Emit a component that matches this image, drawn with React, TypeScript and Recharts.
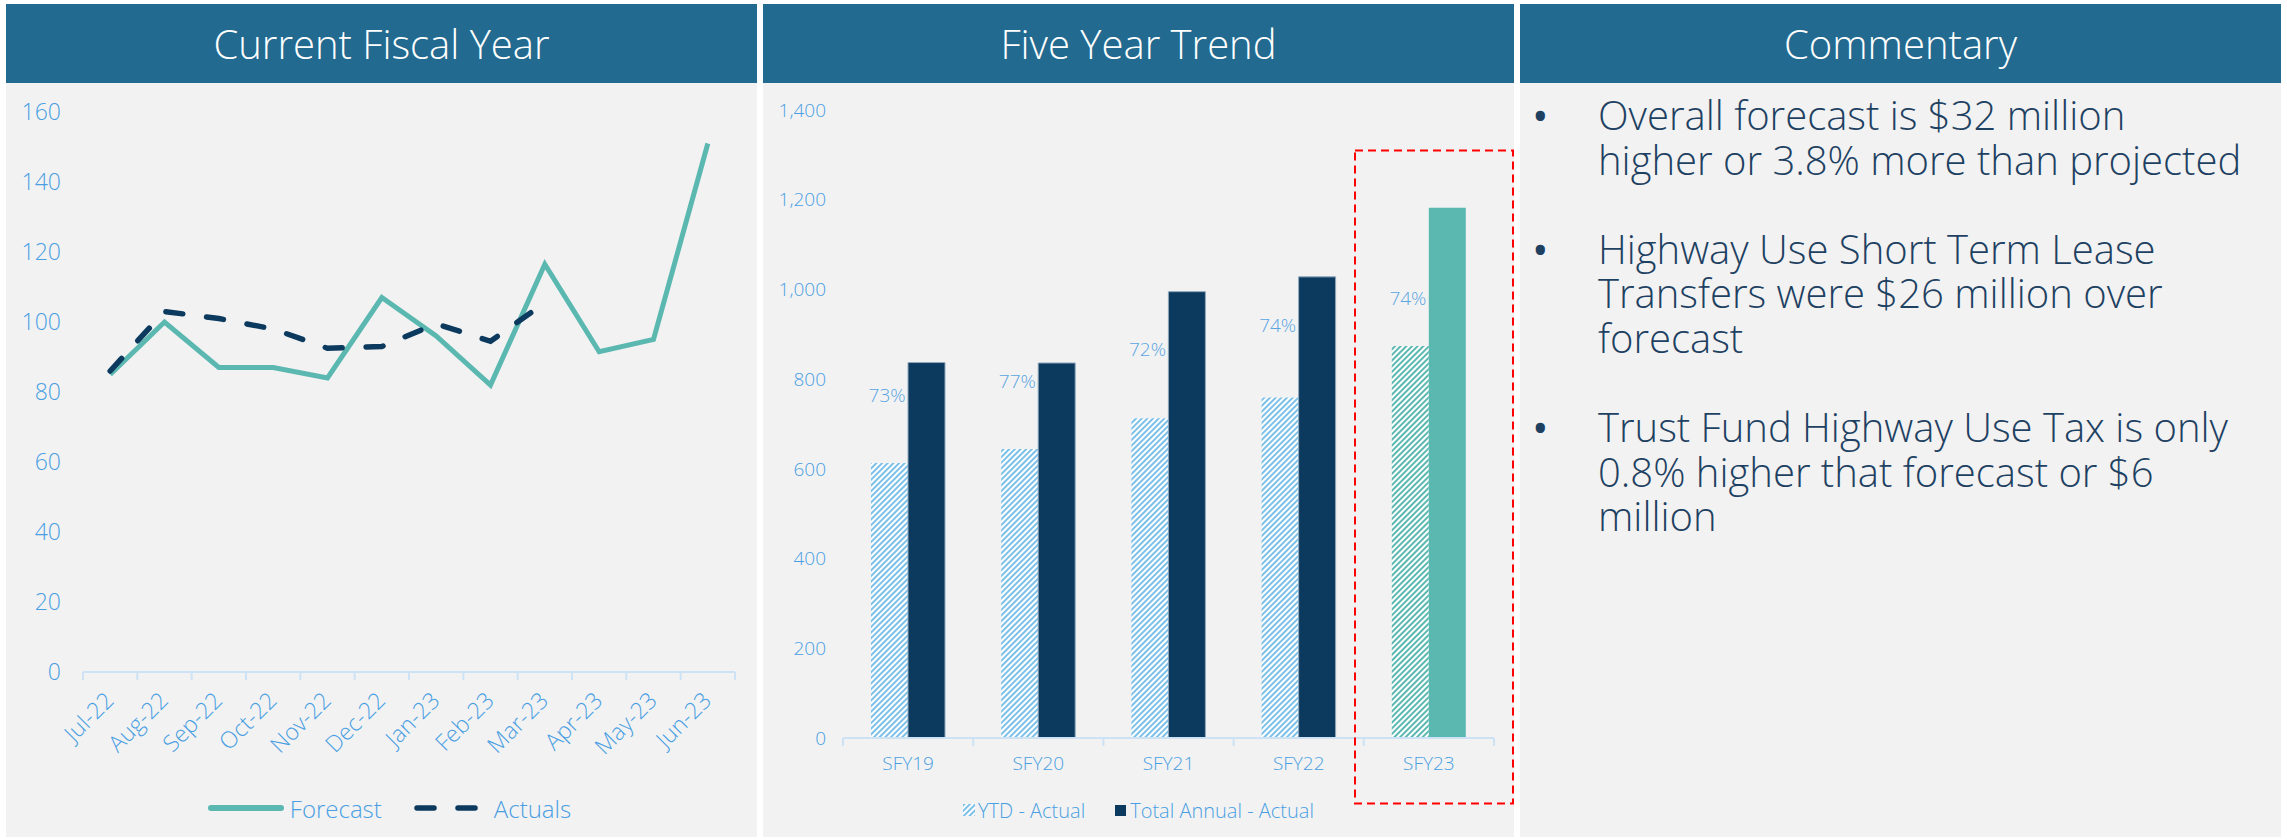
import React from 'react';
import { LineChart, Line, XAxis, YAxis, Legend, ComposedChart, Bar, Cell, LabelList } from 'recharts';

// ---------- Data ----------
const months = ['Jul-22', 'Aug-22', 'Sep-22', 'Oct-22', 'Nov-22', 'Dec-22', 'Jan-23', 'Feb-23', 'Mar-23', 'Apr-23', 'May-23', 'Jun-23'];
const forecast = [85, 100, 87, 87, 84, 107, 96, 82, 116.5, 91.5, 95, 151];
const actuals: (number | null)[] = [86, 103, 101, 98, 92.5, 93, 99.5, 94.5, 105.5, null, null, null];
const lineYTicks = [0, 20, 40, 60, 80, 100, 120, 140, 160];
const lineSeriesNames = ['Forecast', 'Actuals'];

const years = ['SFY19', 'SFY20', 'SFY21', 'SFY22', 'SFY23'];
const ytdActual = [613, 644, 713, 759, 874];
const totalAnnual = [837, 836, 995, 1028, 1182];
const ytdPct = [73, 77, 72, 74, 74];
const pctLabelAt = [763, 795, 867, 921, 980];
const barYTicks = [0, 200, 400, 600, 800, 1000, 1200, 1400];
const barSeriesNames = ['YTD - Actual', 'Total Annual - Actual'];
const highlightYear = 'SFY23';

const panelTitles = ['Current Fiscal Year', 'Five Year Trend', 'Commentary'];
const commentary: string[][] = [
  ['Overall forecast is $32 million', 'higher or 3.8% more than projected'],
  ['Highway Use Short Term Lease', 'Transfers were $26 million over', 'forecast'],
  ['Trust Fund Highway Use Tax is only', '0.8% higher that forecast or $6', 'million'],
];

// ---------- Style ----------
const FONT = '"Open Sans", "Noto Sans", sans-serif';
const HEADER = '#226a8f';
const PANEL_BG = '#f2f2f2';
const AXIS_TEXT = '#4a9fe3';
const AXIS_LINE = '#cde2f4';
const TEAL = '#5bb8b1';
const NAVY = '#0c3a5e';
const HATCH_BLUE = '#7cc0e8';
const TEXT_DARK = '#1e4162';

const lineRows = months.map((m, i) => ({ x: i + 0.5, month: m, forecast: forecast[i], actual: actuals[i] }));
const lineXTicks: number[] = [];
for (let i = 0; i <= months.length * 2; i++) lineXTicks.push(i / 2);

const barRows = years.map((y, i) => ({ year: y, ytd: ytdActual[i], total: totalAnnual[i], pct: ytdPct[i], labelAt: pctLabelAt[i] }));

const C1 = { width: 751, height: 754, yAxisW: 77, right: 22, top: 29 };
const C2 = { width: 751, height: 754, yAxisW: 80, right: 20, top: 27 };

const LineXTick = (props: any) => {
  const { x, y, payload } = props;
  const v = payload.value as number;
  if (Number.isInteger(v)) {
    return <line x1={x} x2={x} y1={y} y2={y + 8} stroke={AXIS_LINE} strokeWidth={2} />;
  }
  const label = months[Math.floor(v)];
  return (
    <g transform={`translate(${x + 5},${y + 30}) rotate(-45)`}>
      <text x={0} y={0} textAnchor="end" fill={AXIS_TEXT} fontSize={23} fontFamily={FONT} fontWeight={300}>
        {label}
      </text>
    </g>
  );
};

const BarXTick = (props: any) => {
  const { x, y, payload, index } = props;
  const band = (C2.width - C2.yAxisW - C2.right) / years.length;
  return (
    <g>
      <line x1={x - band / 2} x2={x - band / 2} y1={y} y2={y + 8} stroke={AXIS_LINE} strokeWidth={2} />
      {index === years.length - 1 && (
        <line x1={x + band / 2} x2={x + band / 2} y1={y} y2={y + 8} stroke={AXIS_LINE} strokeWidth={2} />
      )}
      <text x={x} y={y + 25} dy="0.35em" textAnchor="middle" fill={AXIS_TEXT} fontSize={19} fontFamily={FONT} fontWeight={300}>
        {payload.value}
      </text>
    </g>
  );
};

const LineLegend = () => (
  <div style={{ display: 'flex', justifyContent: 'center', alignItems: 'center', height: 30, paddingLeft: 16, fontFamily: FONT, fontWeight: 300, fontSize: 24, color: AXIS_TEXT }}>
    <svg width={76} height={12} style={{ marginRight: 6 }}>
      <line x1={3} x2={73} y1={6} y2={6} stroke={TEAL} strokeWidth={6} strokeLinecap="round" />
    </svg>
    <span>{lineSeriesNames[0]}</span>
    <svg width={66} height={12} style={{ marginLeft: 32, marginRight: 14 }}>
      <line x1={3} x2={64} y1={6} y2={6} stroke={NAVY} strokeWidth={5.5} strokeLinecap="round" strokeDasharray="17 24" />
    </svg>
    <span>{lineSeriesNames[1]}</span>
  </div>
);

const BarLegend = () => (
  <div style={{ display: 'flex', justifyContent: 'center', alignItems: 'center', height: 26, fontFamily: FONT, fontWeight: 300, fontSize: 20, color: AXIS_TEXT }}>
    <svg width={12} height={12} style={{ marginRight: 3 }}>
      <rect x={0} y={0} width={12} height={12} fill="url(#legendHatch)" />
      <defs>
        <pattern id="legendHatch" width={4} height={4} patternUnits="userSpaceOnUse" patternTransform="rotate(45)">
          <rect width={4} height={4} fill="#ffffff" />
          <rect width={2} height={4} fill={HATCH_BLUE} />
        </pattern>
      </defs>
    </svg>
    <span>{barSeriesNames[0]}</span>
    <svg width={11} height={11} style={{ marginLeft: 30, marginRight: 4 }}>
      <rect x={0} y={0} width={11} height={11} fill={NAVY} />
    </svg>
    <span>{barSeriesNames[1]}</span>
  </div>
);

const PctLabel = (props: any) => {
  const { x, y, value } = props;
  return (
    <text x={x - 21} y={y} dy="0.35em" textAnchor="middle" fill="#5aa5e2" fontSize={19} fontFamily={FONT} fontWeight={300}>
      {`${value}%`}
    </text>
  );
};

const Header = ({ title }: { title: string }) => (
  <div style={{ position: 'absolute', left: 0, top: 0, right: 0, height: 79, background: HEADER, color: '#fff', display: 'flex', alignItems: 'center', justifyContent: 'center', fontFamily: FONT, fontWeight: 300, fontSize: 40 }}>
    {title}
  </div>
);

export default function App() {
  return (
    <div style={{ position: 'absolute', left: 0, top: 0, width: 2287, height: 840, background: '#ffffff', overflow: 'hidden' }}>
      {/* Panel 1 */}
      <div style={{ position: 'absolute', left: 6, top: 4, width: 751, height: 833, background: PANEL_BG }}>
        <Header title={panelTitles[0]} />
        <div style={{ position: 'absolute', left: 0, top: 79 }}>
          <LineChart width={C1.width} height={C1.height} data={lineRows} margin={{ top: C1.top, right: C1.right, left: 0, bottom: 35 }}>
            <XAxis
              type="number"
              dataKey="x"
              domain={[0, months.length]}
              ticks={lineXTicks}
              interval={0}
              tickLine={false}
              tickSize={0}
              tickMargin={0}
              axisLine={{ stroke: AXIS_LINE, strokeWidth: 2 }}
              tick={<LineXTick />}
              height={100}
            />
            <YAxis
              domain={[0, 160]}
              ticks={lineYTicks}
              interval={0}
              width={C1.yAxisW}
              axisLine={false}
              tickLine={false}
              tickSize={0}
              tickMargin={22}
              tick={{ fill: AXIS_TEXT, fontSize: 23, fontFamily: FONT, fontWeight: 300 }}
            />
            <Legend content={<LineLegend />} wrapperStyle={{ top: 710, left: 0, width: C1.width, height: 30 }} />
            <Line dataKey="forecast" name={lineSeriesNames[0]} stroke={TEAL} strokeWidth={5} dot={false} activeDot={false} isAnimationActive={false} strokeLinejoin="miter" />
            <Line dataKey="actual" name={lineSeriesNames[1]} stroke={NAVY} strokeWidth={5.5} strokeDasharray="17 24" strokeLinecap="round" dot={false} activeDot={false} isAnimationActive={false} connectNulls={false} />
          </LineChart>
        </div>
      </div>

      {/* Panel 2 */}
      <div style={{ position: 'absolute', left: 763, top: 4, width: 751, height: 833, background: PANEL_BG }}>
        <Header title={panelTitles[1]} />
        <div style={{ position: 'absolute', left: 0, top: 79 }}>
          <ComposedChart width={C2.width} height={C2.height} data={barRows} margin={{ top: C2.top, right: C2.right, left: 0, bottom: 23 }} barGap={0}>
            <defs>
              <pattern id="hatchBlue" width={4} height={4} patternUnits="userSpaceOnUse" patternTransform="rotate(45)">
                <rect width={4} height={4} fill="#ffffff" />
                <rect width={2} height={4} fill={HATCH_BLUE} />
              </pattern>
              <pattern id="hatchTeal" width={4} height={4} patternUnits="userSpaceOnUse" patternTransform="rotate(45)">
                <rect width={4} height={4} fill="#ffffff" />
                <rect width={2} height={4} fill={TEAL} />
              </pattern>
            </defs>
            <XAxis
              dataKey="year"
              tickLine={false}
              tickSize={0}
              tickMargin={0}
              axisLine={{ stroke: AXIS_LINE, strokeWidth: 2 }}
              tick={<BarXTick />}
              interval={0}
              height={50}
            />
            <YAxis
              domain={[0, 1400]}
              ticks={barYTicks}
              interval={0}
              width={C2.yAxisW}
              axisLine={false}
              tickLine={false}
              tickSize={0}
              tickMargin={17}
              tickFormatter={(v: number) => v.toLocaleString('en-US')}
              tick={{ fill: AXIS_TEXT, fontSize: 19, fontFamily: FONT, fontWeight: 300 }}
            />
            <Legend content={<BarLegend />} wrapperStyle={{ top: 714, left: 0, width: C2.width, height: 26 }} />
            <Bar dataKey="ytd" name={barSeriesNames[0]} barSize={37} isAnimationActive={false}>
              {barRows.map((r) => (
                <Cell key={r.year} fill={r.year === highlightYear ? 'url(#hatchTeal)' : 'url(#hatchBlue)'} />
              ))}
            </Bar>
            <Bar dataKey="total" name={barSeriesNames[1]} barSize={37} isAnimationActive={false}>
              {barRows.map((r) => (
                <Cell key={r.year} fill={r.year === highlightYear ? TEAL : NAVY} stroke={r.year === highlightYear ? 'none' : '#8fa8bd'} strokeWidth={1} />
              ))}
            </Bar>
            <Line dataKey="labelAt" stroke="none" dot={false} activeDot={false} isAnimationActive={false} legendType="none">
              <LabelList dataKey="pct" content={<PctLabel />} />
            </Line>
          </ComposedChart>
        </div>
      </div>

      {/* Highlight box around SFY23 */}
      <svg style={{ position: 'absolute', left: 1354, top: 149 }} width={161} height={656}>
        <rect x={1} y={1.5} width={158} height={653} fill="none" stroke="#ff0000" strokeWidth={2} strokeDasharray="8 5" />
      </svg>

      {/* Panel 3 */}
      <div style={{ position: 'absolute', left: 1520, top: 4, width: 761, height: 833, background: PANEL_BG }}>
        <Header title={panelTitles[2]} />
        <div style={{ position: 'absolute', left: 0, top: 79 + 10, width: 761, fontFamily: FONT, fontWeight: 300, fontSize: 40, lineHeight: '44.6px', color: TEXT_DARK }}>
          {commentary.map((lines, bi) => (
            <div key={bi} style={{ position: 'relative', marginBottom: 44.6 }}>
              <span style={{ position: 'absolute', left: 12, fontWeight: 400, fontSize: 44 }}>•</span>
              {lines.map((ln, li) => (
                <div key={li} style={{ paddingLeft: 78, whiteSpace: 'nowrap' }}>{ln}</div>
              ))}
            </div>
          ))}
        </div>
      </div>
    </div>
  );
}
